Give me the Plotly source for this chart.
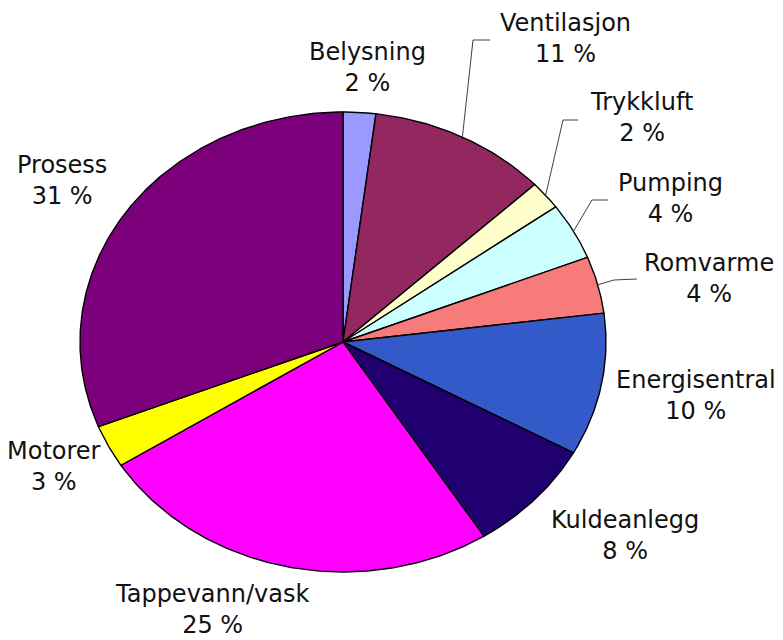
import numpy as np
import plotly.graph_objects as go

# Energy use by purpose (percent)
labels = ["Belysning", "Ventilasjon", "Trykkluft", "Pumping", "Romvarme",
          "Energisentral", "Kuldeanlegg", "Tappevann/vask", "Motorer", "Prosess"]
values = [2, 11, 2, 4, 4, 10, 8, 25, 3, 31]
colors = ["#9999FF", "#93275F", "#FFFFCC", "#CCFFFF", "#F77B7B",
          "#3459C9", "#200070", "#FF00FF", "#FFFF00", "#7C007C"]

W, H = 783, 640
# pie geometry in page pixels (slightly flattened ellipse)
CX, CY, RX, RY = 343, 342, 263, 230

# centre of each label block
label_xy = {
    "Belysning": (367, 67), "Ventilasjon": (565, 38), "Trykkluft": (641, 117),
    "Pumping": (670, 198), "Romvarme": (709, 278), "Energisentral": (696, 395),
    "Kuldeanlegg": (625, 535), "Tappevann/vask": (212, 609),
    "Motorer": (54, 466), "Prosess": (62, 180),
}
# leader line bends (after leaving the slice edge)
leaders = {
    "Ventilasjon": [(473, 40), (490, 40)],
    "Trykkluft": [(563, 120), (578, 120)],
    "Pumping": [(592, 200), (608, 200)],
    "Romvarme": [(614, 280), (637, 279)],
}

fig = go.Figure()
total = float(sum(values))
cum = np.concatenate([[0.0], np.cumsum(values)]) / total

def ellipse_pt(frac):
    a = 2 * np.pi * frac
    return CX + RX * np.sin(a), CY - RY * np.cos(a)

for i, (lab, val, col) in enumerate(zip(labels, values, colors)):
    n = max(int(val * 6), 4)
    t = np.linspace(cum[i], cum[i + 1], n)
    xs, ys = ellipse_pt(t)
    fig.add_trace(go.Scatter(
        x=np.concatenate([[CX], xs, [CX]]),
        y=np.concatenate([[CY], ys, [CY]]),
        mode="lines", fill="toself", fillcolor=col,
        line=dict(color="black", width=1.4),
        name=lab, hoverinfo="name",
    ))

shapes = []
for lab, pts in leaders.items():
    i = labels.index(lab)
    sx, sy = ellipse_pt((cum[i] + cum[i + 1]) / 2)
    path = f"M {sx:.1f},{sy:.1f} " + " ".join(f"L {x},{y}" for x, y in pts)
    shapes.append(dict(type="path", path=path, xref="x", yref="y",
                       line=dict(color="#404040", width=1)))

annotations = []
for lab, val in zip(labels, values):
    x, y = label_xy[lab]
    annotations.append(dict(
        x=x, y=y, xref="x", yref="y", text=f"{lab}<br>{val} %",
        showarrow=False, xanchor="center", yanchor="middle", align="center",
        font=dict(family="DejaVu Sans", size=24, color="#111111"),
    ))

fig.update_layout(
    width=W, height=H, margin=dict(l=0, r=0, t=0, b=0),
    paper_bgcolor="white", plot_bgcolor="white", showlegend=False,
    xaxis=dict(range=[0, W], visible=False, fixedrange=True),
    yaxis=dict(range=[H, 0], visible=False, fixedrange=True),
    shapes=shapes, annotations=annotations,
)

fig.write_html("out.html")
